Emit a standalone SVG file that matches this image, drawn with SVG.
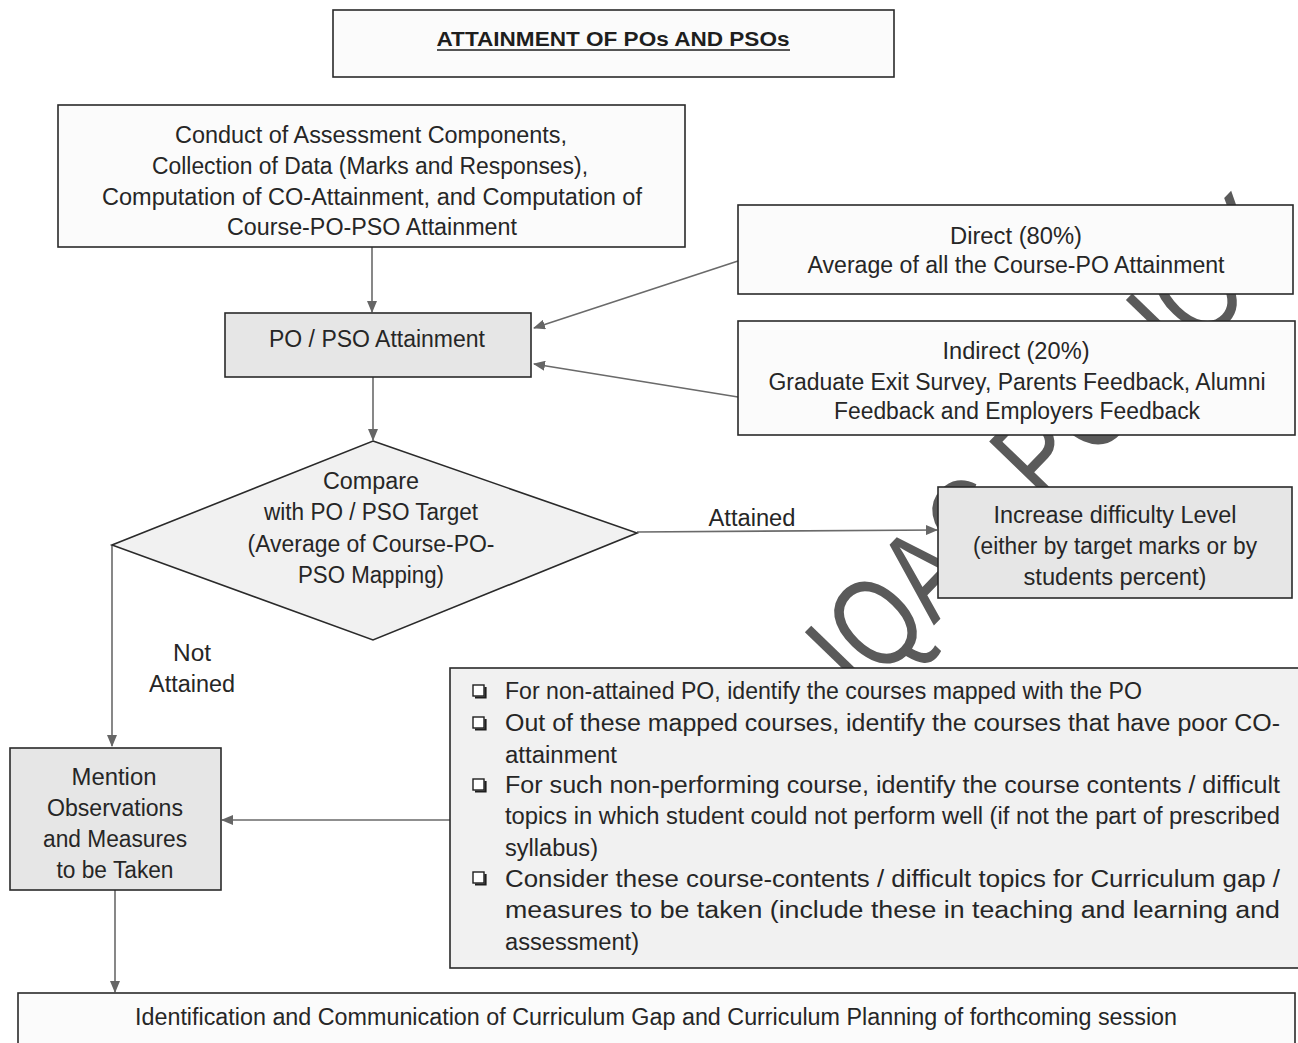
<svg xmlns="http://www.w3.org/2000/svg" xmlns:xlink="http://www.w3.org/1999/xlink" width="1298" height="1043" viewBox="0 0 1298 1043">
  <style>
    .box { stroke: #2a2a2a; stroke-width: 1.6; }
    .white { fill: #fbfbfb; }
    .grey { fill: #e6e6e6; }
    .light { fill: #f1f1f1; }
    .t { font-family: "Liberation Sans", Arial, sans-serif; font-size: 23px; fill: #262626; }
    .c { text-anchor: middle; }
    .title { font-family: "Liberation Sans", Arial, sans-serif; font-size: 20px; font-weight: bold; fill: #1e1e1e; text-anchor: middle; }
    .conn { stroke: #6a6a6a; stroke-width: 1.6; fill: none; }
    .wm { font-family: "Liberation Sans", Arial, sans-serif; font-size: 128px; fill: #5a5a5a; }
  </style>
  <defs>
    <marker id="arrow" viewBox="0 0 12 10" refX="11" refY="5" markerWidth="12" markerHeight="10" markerUnits="userSpaceOnUse" orient="auto">
      <path d="M0,0 L12,5 L0,10 Z" fill="#666666"/>
    </marker>
    <g id="tick">
      <rect x="0" y="0" width="11" height="11" fill="#ffffff" stroke="#1e1e1e" stroke-width="1.4"/>
      <path d="M2,12.5 H12.5 V2" fill="none" stroke="#1e1e1e" stroke-width="2.2"/>
    </g>
  </defs>

  <rect width="1298" height="1043" fill="#ffffff"/>

  <!-- connectors -->
  <g id="connectors">
    <line class="conn" x1="372" y1="247" x2="372" y2="312" marker-end="url(#arrow)"/>
    <line class="conn" x1="738" y1="261" x2="534" y2="328" marker-end="url(#arrow)"/>
    <line class="conn" x1="738" y1="397" x2="534" y2="364" marker-end="url(#arrow)"/>
    <line class="conn" x1="373" y1="377" x2="373" y2="440" marker-end="url(#arrow)"/>
    <line class="conn" x1="637" y1="532" x2="937" y2="530" marker-end="url(#arrow)"/>
    <polyline class="conn" points="112,545 112,746" marker-end="url(#arrow)"/>
    <line class="conn" x1="450" y1="820" x2="222" y2="820" marker-end="url(#arrow)"/>
    <line class="conn" x1="115" y1="890" x2="115" y2="992" marker-end="url(#arrow)"/>
    <text class="t c" x="752" y="526" textLength="87" lengthAdjust="spacingAndGlyphs">Attained</text>
    <text class="t c" x="192" y="661" textLength="38" lengthAdjust="spacingAndGlyphs">Not</text>
    <text class="t c" x="192" y="692" textLength="86" lengthAdjust="spacingAndGlyphs">Attained</text>
  </g>

  <!-- background stamp lettering -->
  <g id="stamp">
    <text class="wm" transform="translate(862,700) rotate(-46)" textLength="625" lengthAdjust="spacingAndGlyphs">IQAC POLICY</text>
  </g>

  <g id="title">
    <rect class="box white" x="333" y="10" width="561" height="67"/>
    <text class="title" x="613" y="46" textLength="353" lengthAdjust="spacingAndGlyphs">ATTAINMENT OF POs AND PSOs</text>
    <line x1="437" y1="50" x2="790" y2="50" stroke="#1e1e1e" stroke-width="1.5"/>
  </g>

  <g id="assessment">
    <rect class="box white" x="58" y="105" width="627" height="142"/>
    <text class="t c" x="371" y="143" textLength="392" lengthAdjust="spacingAndGlyphs">Conduct of Assessment Components,</text>
    <text class="t c" x="370" y="174" textLength="436" lengthAdjust="spacingAndGlyphs">Collection of Data (Marks and Responses),</text>
    <text class="t c" x="372" y="205" textLength="540" lengthAdjust="spacingAndGlyphs">Computation of CO-Attainment, and Computation of</text>
    <text class="t c" x="372" y="235" textLength="290" lengthAdjust="spacingAndGlyphs">Course-PO-PSO Attainment</text>
  </g>

  <g id="po-pso">
    <rect class="box grey" x="225" y="313" width="306" height="64"/>
    <text class="t c" x="377" y="347" textLength="216" lengthAdjust="spacingAndGlyphs">PO / PSO Attainment</text>
  </g>

  <g id="direct">
    <rect class="box white" x="738" y="205" width="555" height="89"/>
    <text class="t c" x="1016" y="244" textLength="132" lengthAdjust="spacingAndGlyphs">Direct (80%)</text>
    <text class="t c" x="1016" y="273" textLength="417" lengthAdjust="spacingAndGlyphs">Average of all the Course-PO Attainment</text>
  </g>

  <g id="indirect">
    <rect class="box white" x="738" y="321" width="557" height="114"/>
    <text class="t c" x="1016" y="359" textLength="147" lengthAdjust="spacingAndGlyphs">Indirect (20%)</text>
    <text class="t c" x="1017" y="390" textLength="497" lengthAdjust="spacingAndGlyphs">Graduate Exit Survey, Parents Feedback, Alumni</text>
    <text class="t c" x="1017" y="419" textLength="366" lengthAdjust="spacingAndGlyphs">Feedback and Employers Feedback</text>
  </g>

  <g id="compare">
    <polygon class="box light" points="373,441 637,533 373,640 112,545"/>
    <text class="t c" x="371" y="489" textLength="96" lengthAdjust="spacingAndGlyphs">Compare</text>
    <text class="t c" x="371" y="520" textLength="214" lengthAdjust="spacingAndGlyphs">with PO / PSO Target</text>
    <text class="t c" x="371" y="552" textLength="247" lengthAdjust="spacingAndGlyphs">(Average of Course-PO-</text>
    <text class="t c" x="371" y="583" textLength="146" lengthAdjust="spacingAndGlyphs">PSO Mapping)</text>
  </g>

  <g id="increase">
    <rect class="box grey" x="938" y="487" width="354" height="111"/>
    <text class="t c" x="1115" y="523" textLength="243" lengthAdjust="spacingAndGlyphs">Increase difficulty Level</text>
    <text class="t c" x="1115" y="554" textLength="284" lengthAdjust="spacingAndGlyphs">(either by target marks or by</text>
    <text class="t c" x="1115" y="585" textLength="183" lengthAdjust="spacingAndGlyphs">students percent)</text>
  </g>

  <g id="mention">
    <rect class="box grey" x="10" y="748" width="211" height="142"/>
    <text class="t c" x="114" y="785" textLength="85" lengthAdjust="spacingAndGlyphs">Mention</text>
    <text class="t c" x="115" y="816" textLength="136" lengthAdjust="spacingAndGlyphs">Observations</text>
    <text class="t c" x="115" y="847" textLength="144" lengthAdjust="spacingAndGlyphs">and Measures</text>
    <text class="t c" x="115" y="878" textLength="117" lengthAdjust="spacingAndGlyphs">to be Taken</text>
  </g>

  <g id="actions">
    <rect class="box light" x="450" y="668" width="860" height="300"/>
    <use xlink:href="#tick" x="473" y="685"/>
    <use xlink:href="#tick" x="473" y="717"/>
    <use xlink:href="#tick" x="473" y="779"/>
    <use xlink:href="#tick" x="473" y="872"/>
    <text class="t" x="505" y="699" textLength="637" lengthAdjust="spacingAndGlyphs">For non-attained PO, identify the courses mapped with the PO</text>
    <text class="t" x="505" y="731" textLength="775" lengthAdjust="spacingAndGlyphs">Out of these mapped courses, identify the courses that have poor CO-</text>
    <text class="t" x="505" y="763" textLength="112" lengthAdjust="spacingAndGlyphs">attainment</text>
    <text class="t" x="505" y="793" textLength="775" lengthAdjust="spacingAndGlyphs">For such non-performing course, identify the course contents / difficult</text>
    <text class="t" x="505" y="824" textLength="775" lengthAdjust="spacingAndGlyphs">topics in which student could not perform well (if not the part of prescribed</text>
    <text class="t" x="505" y="856" textLength="93" lengthAdjust="spacingAndGlyphs">syllabus)</text>
    <text class="t" x="505" y="887" textLength="775" lengthAdjust="spacingAndGlyphs">Consider these course-contents / difficult topics for Curriculum gap /</text>
    <text class="t" x="505" y="918" textLength="775" lengthAdjust="spacingAndGlyphs">measures to be taken (include these in teaching and learning and</text>
    <text class="t" x="505" y="950" textLength="134" lengthAdjust="spacingAndGlyphs">assessment)</text>
  </g>

  <g id="curriculum">
    <rect class="box white" x="18" y="993" width="1277" height="60"/>
    <text class="t" x="135" y="1025" textLength="1042" lengthAdjust="spacingAndGlyphs">Identification and Communication of Curriculum Gap and Curriculum Planning of forthcoming session</text>
  </g>
</svg>
